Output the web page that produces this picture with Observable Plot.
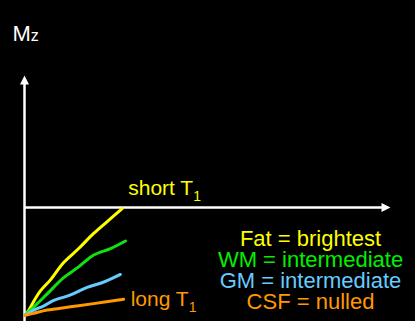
<!DOCTYPE html>
<html><head><meta charset="utf-8">
<script src="https://cdn.jsdelivr.net/npm/d3@7"></script>
<script src="https://cdn.jsdelivr.net/npm/@observablehq/plot@0.6"></script>
<style>
html,body{margin:0;padding:0;background:#000;}
#chart{width:415px;height:321px;overflow:hidden;}
</style></head><body><div id="chart"></div>
<script>
// ---- data: time after inversion vs longitudinal magnetisation Mz
const tissues = ["Fat", "WM", "GM", "CSF"];
const tFat = [0, 0.12, 0.25, 0.44, 0.71, 1.07, 1.48, 1.89, 2.26, 2.67];
const mFat = [-1, -0.95, -0.87, -0.77, -0.67, -0.51, -0.38, -0.24, -0.13, -0.01];
const tWM  = [0, 0.16, 0.35, 0.62, 1.07, 1.48, 1.89, 2.35, 2.76];
const mWM  = [-1, -0.95, -0.89, -0.80, -0.65, -0.55, -0.44, -0.38, -0.31];
const tGM  = [0, 0.25, 0.53, 0.80, 1.26, 1.71, 2.17, 2.62];
const mGM  = [-1, -0.95, -0.91, -0.86, -0.81, -0.74, -0.69, -0.62];
const tCSF = [0, 0.25, 0.62, 1.26, 1.89, 2.71];
const mCSF = [-1, -0.98, -0.95, -0.92, -0.89, -0.85];
const legendLabels = ["Fat = brightest", "WM = intermediate", "GM = intermediate", "CSF = nulled"];
const shortLabel = "short T_1";
const longLabel = "long T_1";
const axisLabel = "Mz";

// ---- styles
const lineColors = ["#ffff00", "#11e011", "#66ccff", "#ff9900"];
const textColors = ["#ffff00", "#00f000", "#66ccff", "#ff9900"];
const font = "Liberation Sans, Arial, Helvetica, sans-serif";

// build table
const series = [[tFat, mFat], [tWM, mWM], [tGM, mGM], [tCSF, mCSF]];
const rows = [];
series.forEach(([ts, ms], k) => ts.forEach((t, i) => rows.push({tissue: tissues[k], t, m: ms[i]})));
const lastOf = (k) => rows.filter(r => r.tissue === tissues[k]).slice(-1);

// custom filled arrowheads (tip at the anchor point)
const headUp = {draw(ctx, size) { const r = Math.sqrt(size / Math.PI); const w = r * 0.5;
  ctx.moveTo(0, 0); ctx.lineTo(w, r); ctx.lineTo(-w, r); ctx.closePath(); }};
const headRight = {draw(ctx, size) { const r = Math.sqrt(size / Math.PI); const w = r * 0.5;
  ctx.moveTo(0, 0); ctx.lineTo(-r, w); ctx.lineTo(-r, -w); ctx.closePath(); }};

const yTop = 1.222, xEnd = 10;

const marks = [
  Plot.ruleX([0], {y1: -1.1, y2: yTop - 0.07, stroke: "#fff", strokeWidth: 2.5}),
  Plot.ruleY([0], {x1: 0, x2: xEnd - 0.2, stroke: "#fff", strokeWidth: 2.5}),
  Plot.dot([0], {x: 0, y: yTop, symbol: headUp, r: 9, fill: "#fff", stroke: "none"}),
  Plot.dot([0], {x: xEnd, y: 0, symbol: headRight, r: 9, fill: "#fff", stroke: "none"}),
  Plot.line(rows, {x: "t", y: "m", z: "tissue", stroke: "tissue", strokeWidth: 3,
    curve: "catmull-rom", strokeLinecap: "round", strokeLinejoin: "round"}),
  Plot.text(lastOf(0), {x: "t", y: "m", text: () => shortLabel, textAnchor: "start",
    dx: 6, dy: -20, fill: textColors[0], fontSize: 21, fontFamily: font}),
  Plot.text(lastOf(3), {x: "t", y: "m", text: () => longLabel, textAnchor: "start",
    dx: 7, dy: 0, fill: textColors[3], fontSize: 21, fontFamily: font}),
  Plot.text([axisLabel], {frameAnchor: "top-left", text: d => d, textAnchor: "start",
    dx: -12, dy: 25, fill: "#fff", fontSize: 22, fontFamily: font}),
  ...legendLabels.map((lab, i) => Plot.text([lab], {frameAnchor: "bottom-right", text: d => d,
    textAnchor: "middle", dx: -80, dy: -13 - 21 * (legendLabels.length - 1 - i),
    fill: textColors[i], fontSize: 22, fontFamily: font}))
];

const chart = Plot.plot({
  width: 415, height: 321,
  marginLeft: 24, marginRight: 25, marginTop: 0, marginBottom: 0,
  style: {background: "#000", overflow: "visible"},
  x: {domain: [0, xEnd], axis: null},
  y: {domain: [-1.0556, 1.9167], axis: null},
  color: {domain: tissues, range: lineColors},
  marks
});

// subscripts
chart.querySelectorAll("text").forEach(el => {
  const s = el.textContent;
  if (s === axisLabel) {
    el.textContent = "M";
    const ts = document.createElementNS("http://www.w3.org/2000/svg", "tspan");
    ts.setAttribute("font-size", "16"); ts.textContent = "z"; el.appendChild(ts);
  } else if (s.includes("_")) {
    const [a, b] = s.split("_");
    el.textContent = a;
    const ts = document.createElementNS("http://www.w3.org/2000/svg", "tspan");
    ts.setAttribute("font-size", "14"); ts.setAttribute("dy", "6"); ts.textContent = b;
    el.appendChild(ts);
  }
});
document.getElementById("chart").appendChild(chart);
</script></body></html>
